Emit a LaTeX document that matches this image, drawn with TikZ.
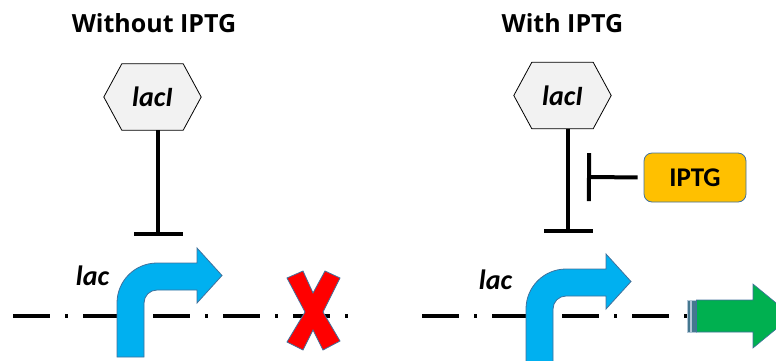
\documentclass[tikz,border=0pt]{standalone}
\usepackage{fontspec}
\setmainfont{Carlito}
\newfontfamily\titlefont{Open Sans}
\usetikzlibrary{arrows.meta,backgrounds}
\definecolor{hexfill}{HTML}{F2F2F2}
\definecolor{edgeblue}{HTML}{41719C}
\definecolor{promblue}{HTML}{00B0F0}
\definecolor{iptgfill}{HTML}{FFC000}
\definecolor{genegreen}{HTML}{00B050}
\definecolor{stripecol}{HTML}{45788F}
\begin{document}
\begin{tikzpicture}[x=1pt,y=-1pt,
  titletext/.style={font=\titlefont\bfseries\fontsize{25}{28}\selectfont, anchor=base, inner sep=0},
  gene/.style={font=\bfseries\itshape\fontsize{28}{30}\selectfont, inner sep=0},
  hexnode/.style={minimum width=97pt, minimum height=66pt, inner sep=0,
    font=\bfseries\itshape\fontsize{28}{30}\selectfont},
  hexshape/.style={draw=black, line width=0.8pt, fill=hexfill},
  inhib/.style={line width=4pt, -{Bar[width=49pt]}},
  dashdot/.style={line width=4pt, dash pattern=on 37pt off 15pt on 3pt off 15pt},
  promarrow/.style={draw=edgeblue, line width=0.8pt, fill=promblue},
  xmark/.style={draw=edgeblue, line width=0.8pt, fill=red},
  iptgbox/.style={draw=edgeblue, line width=0.8pt, fill=iptgfill, rounded corners=8pt,
    minimum width=102pt, minimum height=49pt, inner sep=0,
    font=\bfseries\fontsize{27}{30}\selectfont},
  genearrow/.style={draw=edgeblue, line width=0.6pt, fill=genegreen},
  stripe/.style={draw=edgeblue!40!white, line width=0.5pt, fill=stripecol},
  bentarrow/.pic={
    \path[promarrow] (117,357) -- (117,303)
      .. controls (117,280.9) and (134.9,263) .. (157,263)
      -- (197,263) -- (197,248) -- (222,275.5) -- (197,303) -- (197,290) -- (157,290)
      .. controls (149.8,290) and (144,295.8) .. (144,303)
      -- (144,357) -- cycle;
  }
]
\useasboundingbox (0,0) rectangle (776,360);

% titles
\node[titletext] (t1) at (154,32) {Without IPTG};
\node[titletext] (t2) at (562.5,32) {With IPTG};

% left panel
\node[hexnode] (hexL) at (152.5,97) {lacI};
\coordinate (barL) at (158,236);
\draw[inhib] (barL |- hexL.south) -- (barL);

\coordinate (dL1) at (13,316);
\coordinate (dL2) at (348,316);
\draw[dashdot] (dL1) -- (dL2);
\pic at (0,0) {bentarrow};
\node[gene] (lacL) at (92.5,276) {lac};
\path[xmark] (303,271) -- (313,293) -- (325,271) -- (340,278) -- (323,312) -- (340,341)
  -- (323,350) -- (313,330) -- (303,350) -- (287,342) -- (305,312) -- (287,278) -- cycle;

% right panel
\node[hexnode] (hexR) at (562.5,95.5) {lacI};
\coordinate (barR) at (568,233);
\draw[inhib] (barR |- hexR.south) -- (barR);

\node[iptgbox] (iptg) at (695,177.5) {IPTG};
\coordinate (barI) at (587,177);
\draw[inhib, -{Bar[width=48pt]}, shorten <=6pt] (iptg.west) -- (barI);

\coordinate (dR1) at (422,316);
\coordinate (dR2) at (687,316);
\draw[dashdot] (dR1) -- (dR2);
\pic at (409,6) {bentarrow};
\node[gene] (lacR) at (495.5,280) {lac};

\path[stripe] (687,300) rectangle (690.3,332);
\path[stripe] (690.8,300) rectangle (695.8,332);
\path[genearrow] (696.5,300) -- (753,300) -- (753,284) -- (792,316) -- (753,348) -- (753,332) -- (696.5,332) -- cycle;

\begin{pgfonlayer}{background}
  \path[hexshape] (hexL.west) -- ([xshift=18pt]hexL.north west) -- ([xshift=-18pt]hexL.north east)
    -- (hexL.east) -- ([xshift=-18pt]hexL.south east) -- ([xshift=18pt]hexL.south west) -- cycle;
  \path[hexshape] (hexR.west) -- ([xshift=18pt]hexR.north west) -- ([xshift=-18pt]hexR.north east)
    -- (hexR.east) -- ([xshift=-18pt]hexR.south east) -- ([xshift=18pt]hexR.south west) -- cycle;
\end{pgfonlayer}
\end{tikzpicture}
\end{document}
